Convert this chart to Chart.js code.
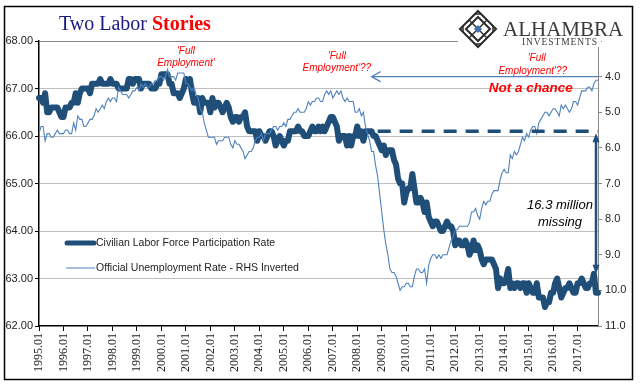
<!DOCTYPE html>
<html>
<head>
<meta charset="utf-8">
<script src="https://cdn.jsdelivr.net/npm/chart.js@4.4.1/dist/chart.umd.min.js"></script>
<style>
  html, body { margin: 0; padding: 0; background: #fff; }
  #wrap { width: 641px; height: 392px; position: relative; }
</style>
</head>
<body>
<div id="wrap"><canvas id="chart"></canvas></div>
<script>
// monthly, 1995.01 - 2017.11
const firstYear = 1995;
const lastYear = 2017;
const lastMonth = 11;

// Civilian labor force participation rate (left axis)
const lfpr = [
  66.8, 66.8, 66.7, 66.9, 66.5, 66.5, 66.6, 66.6, 66.6, 66.6, 66.5, 66.4,
  66.4, 66.6, 66.6, 66.6, 66.7, 66.7, 66.9, 66.7, 66.9, 67.0, 67.0, 67.0,
  67.0, 66.9, 67.1, 67.1, 67.1, 67.1, 67.2, 67.1, 67.1, 67.1, 67.1, 67.2,
  67.1, 67.1, 67.1, 67.0, 67.0, 67.0, 67.0, 67.0, 67.2, 67.2, 67.1, 67.2,
  67.2, 67.2, 67.0, 67.1, 67.1, 67.1, 67.1, 67.0, 67.0, 67.0, 67.1, 67.1,
  67.3, 67.3, 67.3, 67.3, 67.1, 67.1, 66.9, 66.9, 66.9, 66.8, 66.9, 67.0,
  67.2, 67.1, 67.2, 66.9, 66.7, 66.7, 66.8, 66.5, 66.8, 66.7, 66.7, 66.7,
  66.5, 66.8, 66.6, 66.7, 66.7, 66.6, 66.5, 66.6, 66.7, 66.6, 66.4, 66.3,
  66.4, 66.4, 66.3, 66.4, 66.4, 66.5, 66.2, 66.1, 66.1, 66.1, 66.1, 65.9,
  66.1, 66.0, 66.0, 65.9, 66.0, 66.1, 66.1, 66.0, 65.8, 65.9, 66.0, 65.9,
  65.8, 65.9, 65.9, 66.1, 66.1, 66.1, 66.1, 66.2, 66.1, 66.1, 66.0, 66.0,
  66.0, 66.1, 66.2, 66.1, 66.1, 66.2, 66.1, 66.2, 66.1, 66.2, 66.3, 66.4,
  66.4, 66.3, 66.2, 65.9, 66.0, 66.0, 66.0, 65.8, 66.0, 65.8, 66.0, 66.0,
  66.2, 66.0, 66.1, 65.9, 66.1, 66.1, 66.1, 66.1, 66.0, 66.0, 65.9, 65.8,
  65.7, 65.8, 65.6, 65.7, 65.7, 65.7, 65.5, 65.4, 65.1, 65.0, 65.0, 64.6,
  64.8, 64.9, 64.9, 65.2, 64.9, 64.6, 64.6, 64.7, 64.6, 64.4, 64.6, 64.3,
  64.2, 64.1, 64.2, 64.2, 64.1, 64.0, 64.0, 64.1, 64.2, 64.1, 64.1, 64.0,
  63.7, 63.8, 63.8, 63.7, 63.7, 63.8, 63.7, 63.5, 63.6, 63.8, 63.6, 63.7,
  63.6, 63.4, 63.3, 63.4, 63.4, 63.4, 63.4, 63.3, 63.2, 62.8, 63.0, 62.9,
  62.9, 63.0, 63.2, 62.8, 62.9, 62.8, 62.9, 62.9, 62.8, 62.9, 62.9, 62.7,
  62.9, 62.8, 62.7, 62.7, 62.9, 62.6, 62.6, 62.6, 62.4, 62.5, 62.5, 62.7,
  62.7, 62.9, 63.0, 62.8, 62.6, 62.7, 62.8, 62.8, 62.9, 62.8, 62.7, 62.7,
  62.9, 62.9, 63.0, 62.9, 62.8, 62.8, 62.9, 62.9, 63.1, 62.7, 62.7
];

// Official unemployment rate (right axis, inverted)
const unrate = [
  5.6, 5.4, 5.4, 5.8, 5.6, 5.6, 5.7, 5.7, 5.6, 5.5, 5.6, 5.6,
  5.6, 5.5, 5.5, 5.6, 5.6, 5.3, 5.5, 5.1, 5.2, 5.2, 5.4, 5.4,
  5.3, 5.2, 5.2, 5.1, 4.9, 5.0, 4.9, 4.8, 4.9, 4.7, 4.6, 4.7,
  4.6, 4.6, 4.7, 4.3, 4.4, 4.5, 4.5, 4.5, 4.6, 4.5, 4.4, 4.4,
  4.3, 4.4, 4.2, 4.3, 4.2, 4.3, 4.3, 4.2, 4.2, 4.1, 4.1, 4.0,
  4.0, 4.1, 4.0, 3.8, 4.0, 4.0, 4.0, 4.1, 3.9, 3.9, 3.9, 3.9,
  4.2, 4.2, 4.3, 4.4, 4.3, 4.5, 4.6, 4.9, 5.0, 5.3, 5.5, 5.7,
  5.7, 5.7, 5.7, 5.9, 5.8, 5.8, 5.8, 5.7, 5.7, 5.7, 5.9, 6.0,
  5.8, 5.9, 5.9, 6.0, 6.1, 6.3, 6.2, 6.1, 6.1, 6.0, 5.8, 5.7,
  5.7, 5.6, 5.8, 5.6, 5.6, 5.6, 5.5, 5.4, 5.4, 5.5, 5.4, 5.4,
  5.3, 5.4, 5.2, 5.2, 5.1, 5.0, 5.0, 4.9, 5.0, 5.0, 5.0, 4.9,
  4.7, 4.8, 4.7, 4.7, 4.6, 4.6, 4.7, 4.7, 4.5, 4.4, 4.5, 4.4,
  4.6, 4.5, 4.4, 4.5, 4.4, 4.6, 4.7, 4.6, 4.7, 4.7, 4.7, 5.0,
  5.0, 4.9, 5.1, 5.0, 5.4, 5.6, 5.8, 6.1, 6.1, 6.5, 6.8, 7.3,
  7.8, 8.3, 8.7, 9.0, 9.4, 9.5, 9.5, 9.6, 9.8, 10.0, 9.9, 9.9,
  9.8, 9.8, 9.9, 9.9, 9.6, 9.4, 9.4, 9.5, 9.5, 9.4, 9.8, 9.3,
  9.1, 9.0, 9.0, 9.1, 9.0, 9.1, 9.0, 9.0, 9.0, 8.8, 8.6, 8.5,
  8.3, 8.3, 8.2, 8.2, 8.2, 8.2, 8.2, 8.1, 7.8, 7.8, 7.7, 7.9,
  8.0, 7.7, 7.5, 7.6, 7.5, 7.5, 7.3, 7.2, 7.2, 7.2, 6.9, 6.7,
  6.6, 6.7, 6.7, 6.2, 6.3, 6.1, 6.2, 6.1, 5.9, 5.7, 5.8, 5.6,
  5.7, 5.5, 5.4, 5.4, 5.6, 5.3, 5.2, 5.1, 5.0, 5.0, 5.1, 5.0,
  4.9, 4.9, 5.0, 5.1, 4.8, 4.9, 4.8, 4.9, 5.0, 4.9, 4.7, 4.7,
  4.8, 4.6, 4.4, 4.4, 4.4, 4.3, 4.3, 4.4, 4.2, 4.1, 4.1
];

// annotation levels
const fullEmpLevel = 66.1;    // dashed LFPR line
const nowLfpr = 63.1;         // bottom of "missing" arrow
const nowUnrate = 4.0;        // "Full Employment??" arrow
const dashStart = "2008.11";
const arrowStart = "2008.08";

const labels = [];
for (let y = firstYear; y <= lastYear; y++) {
  for (let m = 1; m <= 12; m++) {
    if (y === lastYear && m > lastMonth) break;
    labels.push(y + "." + String(m).padStart(2, "0"));
  }
}

const navy = "#1F4E79";
const lightBlue = "#4F81BD";

function arrowHead(ctx, x, y, dx, dy, len, half) {
  ctx.beginPath();
  ctx.moveTo(x, y);
  ctx.lineTo(x - dx * len - dy * half, y - dy * len + dx * half);
  ctx.lineTo(x - dx * len + dy * half, y - dy * len - dx * half);
  ctx.closePath();
  ctx.fill();
}

const extras = {
  id: "extras",
  beforeDraw(chart) {
    const { ctx } = chart;
    ctx.save();
    ctx.fillStyle = "#fff";
    ctx.fillRect(0, 0, chart.width, chart.height);
    ctx.restore();
  },
  afterDatasetsDraw(chart) {
    const { ctx, scales: { x, y, y2 } } = chart;
    ctx.save();

    // dashed "full employment" participation level
    const yd = y.getPixelForValue(fullEmpLevel);
    ctx.strokeStyle = navy;
    ctx.lineWidth = 3.5;
    ctx.setLineDash([13, 9]);
    ctx.beginPath();
    ctx.moveTo(x.getPixelForValue(labels.indexOf(dashStart)), yd);
    ctx.lineTo(x.right, yd);
    ctx.stroke();
    ctx.setLineDash([]);

    // vertical "missing" arrow
    const xa = x.right - 2;
    const yb = y.getPixelForValue(nowLfpr);
    ctx.lineWidth = 2.5;
    ctx.beginPath();
    ctx.moveTo(xa, yd + 6);
    ctx.lineTo(xa, yb - 6);
    ctx.stroke();
    ctx.fillStyle = navy;
    arrowHead(ctx, xa, yd + 2, 0, -1, 9, 3.5);
    arrowHead(ctx, xa, yb, 0, 1, 9, 3.5);

    // "Full Employment??" arrow on unemployment scale
    const yu = y2.getPixelForValue(nowUnrate);
    const xs = x.getPixelForValue(labels.indexOf(arrowStart));
    ctx.strokeStyle = lightBlue;
    ctx.lineWidth = 1.2;
    ctx.beginPath();
    ctx.moveTo(xs, yu);
    ctx.lineTo(x.right, yu);
    ctx.moveTo(xs + 9, yu - 5);
    ctx.lineTo(xs, yu);
    ctx.lineTo(xs + 9, yu + 5);
    ctx.stroke();

    // notes
    ctx.fillStyle = "#FF0000";
    ctx.textAlign = "center";
    ctx.textBaseline = "middle";
    ctx.font = "italic 10px 'Liberation Sans', Arial";
    const x2001 = x.getPixelForValue(labels.indexOf("2001.01"));
    ctx.fillText("'Full", x2001, 51);
    ctx.fillText("Employment'", x2001, 63);
    const x2008 = x.getPixelForValue(labels.indexOf("2007.03"));
    ctx.fillText("'Full", x2008, 56);
    ctx.fillText("Employment'??", x2008, 68);
    const x2016 = x.getPixelForValue(labels.indexOf("2015.03"));
    ctx.fillText("'Full", x2016 + 4, 58);
    ctx.fillText("Employment'??", x2016, 71);
    ctx.font = "italic bold 13.5px 'Liberation Sans', Arial";
    ctx.fillText("Not a chance", x2016 - 2, 88);

    ctx.fillStyle = "#000";
    ctx.font = "italic 13px 'Liberation Sans', Arial";
    ctx.fillText("16.3 million", 560, 205);
    ctx.fillText("missing", 560, 222);

    // legend
    ctx.textAlign = "left";
    ctx.font = "10.5px 'Liberation Sans', Arial";
    ctx.fillStyle = "#222";
    ctx.strokeStyle = navy;
    ctx.lineWidth = 5;
    ctx.lineCap = "round";
    ctx.beginPath();
    ctx.moveTo(67, 243);
    ctx.lineTo(94, 243);
    ctx.stroke();
    ctx.fillText("Civilian Labor Force Participation Rate", 96, 243);
    ctx.strokeStyle = lightBlue;
    ctx.lineWidth = 1;
    ctx.lineCap = "butt";
    ctx.beginPath();
    ctx.moveTo(66, 268);
    ctx.lineTo(95, 268);
    ctx.stroke();
    ctx.fillText("Official Unemployment Rate - RHS Inverted", 96, 268);
    ctx.restore();
  },
  afterDraw(chart) {
    const { ctx, chartArea } = chart;
    ctx.save();

    // top rule
    ctx.strokeStyle = "#888";
    ctx.lineWidth = 1;
    ctx.beginPath();
    ctx.moveTo(chartArea.left, chartArea.top + 0.5);
    ctx.lineTo(458, chartArea.top + 0.5);
    ctx.stroke();
    // blank out top of right axis under logo
    ctx.fillStyle = "#fff";
    ctx.fillRect(chartArea.right - 3, chartArea.top - 2, 6, 8);

    // title
    ctx.textBaseline = "alphabetic";
    ctx.textAlign = "left";
    ctx.font = "20px 'Liberation Serif', 'Times New Roman', serif";
    ctx.fillStyle = "#1A1A80";
    ctx.fillText("Two Labor", 59, 30);
    ctx.font = "bold 20px 'Liberation Serif', 'Times New Roman', serif";
    ctx.fillStyle = "#FF0000";
    ctx.fillText("Stories", 152, 30);

    // logo
    const cx = 478, cy = 29;
    ctx.strokeStyle = "#2b2b2b";
    ctx.lineWidth = 2;
    for (const r of [18, 12]) {
      ctx.beginPath();
      ctx.moveTo(cx, cy - r);
      ctx.lineTo(cx + r, cy);
      ctx.lineTo(cx, cy + r);
      ctx.lineTo(cx - r, cy);
      ctx.closePath();
      ctx.stroke();
    }
    ctx.lineWidth = 1.5;
    for (const s of [-1, 1]) {
      ctx.beginPath();
      ctx.moveTo(cx - 9, cy + s * 9);
      ctx.lineTo(cx + 9, cy - s * 9);
      ctx.stroke();
      ctx.beginPath();
      ctx.moveTo(cx + s * 15, cy - 3);
      ctx.lineTo(cx + s * 15, cy + 3);
      ctx.moveTo(cx - 3, cy + s * 15);
      ctx.lineTo(cx + 3, cy + s * 15);
      ctx.stroke();
    }
    ctx.fillStyle = "#3E6FB0";
    ctx.beginPath();
    ctx.moveTo(cx, cy - 4);
    ctx.lineTo(cx + 4, cy);
    ctx.lineTo(cx, cy + 4);
    ctx.lineTo(cx - 4, cy);
    ctx.closePath();
    ctx.fill();

    ctx.fillStyle = "#3A3A3A";
    ctx.font = "21px 'Liberation Serif', 'Times New Roman', serif";
    ctx.fillText("ALHAMBRA", 503, 36);
    ctx.font = "9.5px 'Liberation Serif', 'Times New Roman', serif";
    let px = 522;
    for (const ch of "INVESTMENTS".split("")) {
      ctx.fillText(ch, px, 45);
      px += ctx.measureText(ch).width + 0.9;
    }

    // outer frame
    ctx.strokeStyle = "#000";
    ctx.lineWidth = 1.5;
    ctx.strokeRect(4.5, 6.5, 628, 373);
    ctx.restore();
  }
};

new Chart(document.getElementById("chart").getContext("2d"), {
  type: "line",
  data: {
    labels: labels,
    datasets: [
      {
        label: "Civilian Labor Force Participation Rate",
        data: lfpr,
        yAxisID: "y",
        borderColor: navy,
        borderWidth: 6,
        borderJoinStyle: "round",
        borderCapStyle: "round",
        pointRadius: 0,
        tension: 0,
        order: 2
      },
      {
        label: "Official Unemployment Rate - RHS Inverted",
        data: unrate,
        yAxisID: "y2",
        borderColor: lightBlue,
        borderWidth: 1.1,
        pointRadius: 0,
        tension: 0,
        order: 1
      }
    ]
  },
  options: {
    responsive: true,
    maintainAspectRatio: false,
    animation: false,
    layout: { padding: { top: 41, left: 0, right: 0, bottom: 0 } },
    plugins: {
      legend: { display: false },
      tooltip: { enabled: false }
    },
    scales: {
      x: {
        ticks: {
          autoSkip: false,
          minRotation: 90,
          maxRotation: 90,
          padding: 2,
          color: "#222",
          font: { family: "'Liberation Serif', 'Times New Roman', serif", size: 12 },
          callback: (v, i) => (labels[i].endsWith(".01") ? labels[i] : "")
        },
        grid: {
          drawOnChartArea: false,
          tickLength: 5,
          color: (c) => (c.index % 12 === 0 ? "#000" : "rgba(0,0,0,0)")
        },
        border: { color: "#000", width: 1.5 },
        afterFit: (s) => { s.height = 66; }
      },
      y: {
        position: "left",
        min: 62,
        max: 68,
        ticks: {
          stepSize: 1,
          padding: 2,
          color: "#222",
          font: { family: "'Liberation Sans', Arial", size: 11 },
          callback: (v) => v.toFixed(2)
        },
        grid: {
          color: (c) => (c.tick && (c.tick.value === 68 || c.tick.value === 62) ? "rgba(0,0,0,0)" : "#BFBFBF"),
          borderDash: [2, 2],
          tickColor: "#000",
          tickBorderDash: [],
          tickLength: 4
        },
        border: { color: "#000", width: 1.5 },
        afterFit: (s) => { s.width = 39; }
      },
      y2: {
        position: "right",
        reverse: true,
        min: 3,
        max: 11,
        ticks: {
          stepSize: 1,
          padding: 3,
          color: "#222",
          font: { family: "'Liberation Sans', Arial", size: 11 },
          callback: (v) => (v === 3 ? "" : v.toFixed(1))
        },
        grid: {
          drawOnChartArea: false,
          tickLength: 4,
          color: "#888"
        },
        border: { color: "#888", width: 1 },
        afterFit: (s) => { s.width = 43; }
      }
    }
  },
  plugins: [extras]
});
</script>
</body>
</html>
